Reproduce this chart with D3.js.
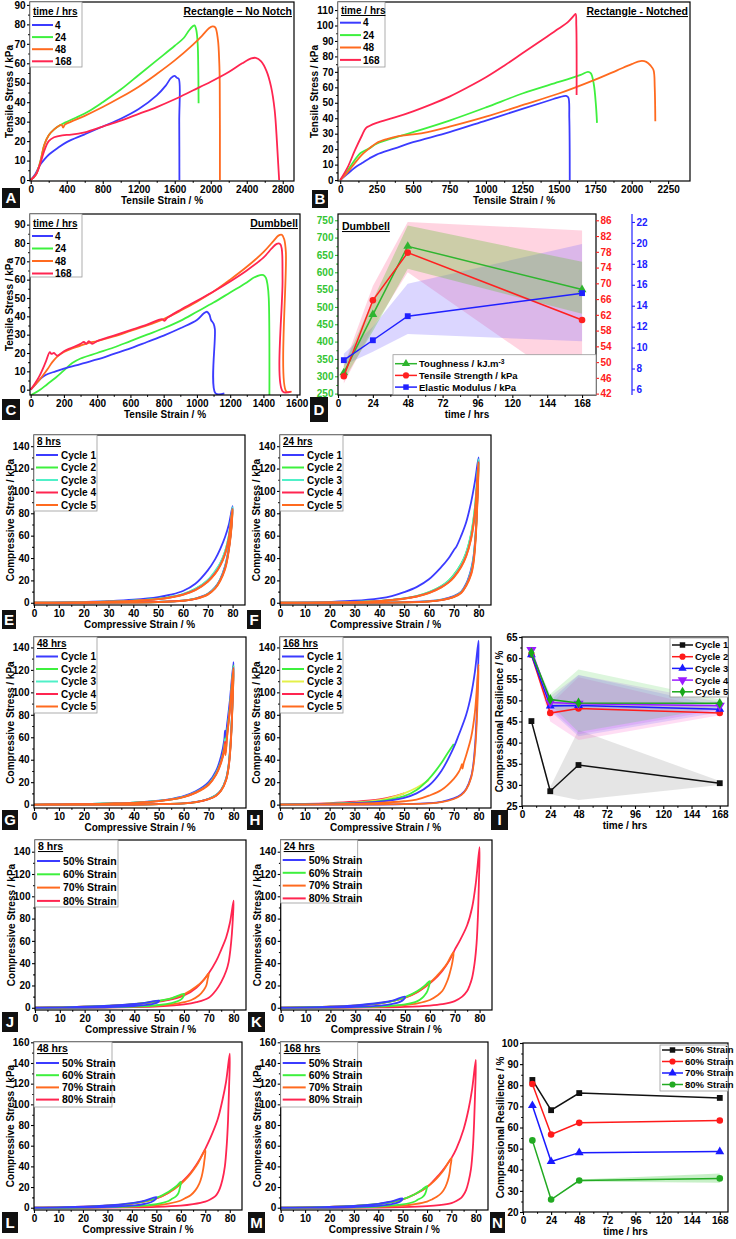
<!DOCTYPE html>
<html><head><meta charset="utf-8">
<script src="https://cdn.jsdelivr.net/npm/d3@7"></script>
<style>body{margin:0;background:#fff}svg{display:block;font-family:"Liberation Sans",Arial,Helvetica,sans-serif;font-weight:bold}</style>
</head><body><script>
// ---------------- DATA ----------------
const A_xticks=[0,400,800,1200,1600,2000,2400,2800], A_yticks=[0,10,20,30,40,50,60,70,80,90];
const B_xticks=[0,250,500,750,1000,1250,1500,1750,2000,2250], B_yticks=[0,10,20,30,40,50,60,70,80,90,100,110];
const C_xticks=[0,200,400,600,800,1000,1200,1400,1600], C_yticks=[0,10,20,30,40,50,60,70,80,90];
const time_ticks=[0,24,48,72,96,120,144,168];
const D_lticks=[250,300,350,400,450,500,550,600,650,700,750];
const D_rticks=[42,46,50,54,58,62,66,70,74,78,82,86];
const D_bticks=[6,8,10,12,14,16,18,20,22];
const comp_xticks=[0,10,20,30,40,50,60,70,80];
const comp_yticks=[0,20,40,60,80,100,120,140];
const comp_yticks2=[0,20,40,60,80,100,120,140,160];
const I_yticks=[25,30,35,40,45,50,55,60,65];
const N_yticks=[20,30,40,50,60,70,80,90,100];
const time_series=["4","24","48","168"];
const cycles=["Cycle 1","Cycle 2","Cycle 3","Cycle 4","Cycle 5"];
const strains=["50% Strain","60% Strain","70% Strain","80% Strain"];

const A_4=[[0,0],[50,3],[100,7.5],[150,10.5],[200,13],[300,16.5],[400,19.5],[600,23.5],[800,27.5],[1000,31.5],[1200,36.5],[1400,43.5],[1500,48.5],[1560,52.5],[1600,53.5],[1625,52.5],[1645,52],[1650,30],[1652,0]];
const A_24=[[0,0],[60,3],[110,10],[150,18],[200,23],[260,26],[320,28],[380,29.5],[500,32],[650,35.5],[800,40],[1000,46.5],[1200,54],[1400,61.5],[1600,69],[1700,73],[1760,77],[1800,79],[1820,79.5],[1840,77],[1855,70],[1862,55],[1865,39.5]];
const A_48=[[0,0],[60,3],[110,10],[150,18],[200,23],[260,26],[320,28],[345,28.3],[360,27],[380,28.5],[450,30],[600,33],[800,37.5],[1000,42.5],[1200,48],[1400,54.5],[1600,61.5],[1800,69.5],[1900,74],[1980,78],[2020,79],[2050,78.5],[2080,72],[2095,60],[2100,50],[2102,0]];
const A_168=[[0,0],[60,3],[110,9],[150,15],[200,20],[260,22],[350,23],[450,23.3],[600,24.5],[800,27.5],[1000,30.5],[1200,34],[1400,37.5],[1600,41.5],[1800,46],[2000,50.5],[2200,55.5],[2350,60],[2450,62.5],[2500,62.8],[2560,61],[2620,56],[2670,48],[2710,36],[2735,20],[2750,8],[2760,0]];

const B_4=[[0,0],[50,4],[100,8],[150,11],[200,14],[250,16.5],[375,20.5],[500,24.5],[750,31],[1000,38.5],[1250,46],[1400,50.5],[1500,53.5],[1550,54.5],[1565,53.5],[1572,40],[1575,0]];
const B_24=[[0,0],[50,6],[100,13],[140,17.5],[200,20.5],[250,23.5],[375,27.5],[500,31],[750,38.5],[1000,47],[1250,56],[1500,63.5],[1650,68],[1700,70],[1720,69],[1740,62],[1755,48],[1762,37]];
const B_48=[[0,0],[50,5],[100,11],[150,16.5],[200,20.5],[250,24],[320,26.5],[400,28.5],[500,29.5],[600,31],[750,34.5],[1000,41],[1250,48.5],[1500,56],[1750,65],[1900,71],[2000,75],[2060,77],[2100,76.5],[2130,74],[2150,71],[2158,60],[2162,38]];
const B_168=[[0,0],[50,8],[100,19],[150,29],[175,33.5],[200,35],[250,37],[375,40.5],[500,44.5],[625,49],[750,54],[875,60],[1000,66.5],[1125,74],[1250,82],[1375,90],[1500,98],[1560,102],[1600,106],[1615,107.5],[1620,100],[1622,55]];

const C_4=[[0,0],[30,3],[60,6],[90,8],[150,10],[200,11.5],[300,14],[400,16.5],[500,19.5],[600,22.5],[700,26],[800,29.5],[900,33.5],[1000,38],[1040,41.5],[1060,42.5],[1075,41],[1085,38],[1100,36],[1108,33],[1112,-2],[1165,-2]];
const C_24=[[0,-3],[50,-0.5],[100,3],[150,6.5],[200,10.5],[250,14.5],[300,17],[400,20],[500,23],[600,26.5],[700,30],[800,33.5],[900,37.5],[1000,42.5],[1100,47.5],[1200,53],[1300,58.5],[1340,61],[1380,62.5],[1400,62.5],[1415,61],[1425,57],[1432,50],[1436,-3]];
const C_48=[[0,0],[50,5],[100,11],[130,15],[160,18],[200,20.5],[250,22.5],[300,24],[350,25.5],[400,26.5],[500,29],[600,32],[700,35],[800,38.5],[900,43],[1000,48],[1100,53.5],[1200,60],[1300,67],[1400,75],[1460,81],[1490,84],[1510,84.5],[1525,82],[1535,75],[1538,-1],[1570,-1]];
const C_168=[[0,0],[50,7],[90,15],[115,20.5],[125,19.5],[140,20],[160,18.5],[200,21],[250,23],[300,25],[320,26],[335,25],[350,26.5],[370,25],[400,26.5],[500,29.5],[600,32.5],[700,35.5],[790,38.5],[805,37.5],[820,39],[900,43.5],[1000,48.5],[1100,53.5],[1200,59],[1300,65],[1400,72],[1450,77],[1480,79.5],[1500,79.5],[1510,77],[1515,60],[1517,-1],[1565,-1]];

const D_time=[4,24,48,168];
const D_tough=[310,478,675,550], D_tough_lo=[290,430,610,480], D_tough_hi=[330,520,735,630];
const D_tens=[46.4,65.7,77.8,60.7], D_tens_lo=[44.6,58.7,72.8,42], D_tens_hi=[49,69.3,85.6,83.4];
const D_mod=[8.8,10.7,13.0,15.2], D_mod_lo=[8.3,9.6,11.3,10.6], D_mod_hi=[9.4,12.0,16.1,19.9];

const E_c1=[[0,0],[10,0.3],[20,0.8],[30,1.5],[40,2.7],[50,5],[55,7.2],[60,10.5],[65,17],[70,29],[73,39],[75,48],[77,59],[78.5,70],[80,86.5],[79.6,72],[79,58],[78,43],[77,33],[75,21],[73,14],[70,8],[65,3.8],[60,2],[50,0.8],[40,0.3],[20,0],[0,0]];
const E_c2=[[0,0],[10,0.2],[20,0.5],[30,1],[40,1.9],[50,3.6],[55,5.2],[60,7.8],[65,12.5],[70,20],[73,28],[75,35],[77,46],[78.5,60],[80,85],[79.6,70],[79,57],[78,42],[77,32],[75,20.5],[73,13.5],[70,7.8],[65,3.6],[60,1.9],[50,0.7],[40,0.3],[20,0],[0,0]];
const E_c3=[[0,0],[10,0.2],[20,0.5],[30,1],[40,1.9],[50,3.5],[55,5.1],[60,7.7],[65,12.3],[70,20.5],[73,28.5],[75,35.5],[77,46],[78.5,60],[80,85.5],[79.6,70],[79,57],[78,42],[77,32],[75,20.5],[73,13.5],[70,7.8],[65,3.6],[60,1.9],[50,0.7],[40,0.3],[20,0],[0,0]];
const E_c4=[[0,0],[10,0.2],[20,0.4],[30,0.9],[40,1.7],[50,3.3],[55,4.8],[60,7.2],[65,11.5],[70,19],[73,26.5],[75,33.5],[77,44],[78.5,58],[80,84],[79.6,69],[79,56],[78,41],[77,31],[75,20],[73,13],[70,7.5],[65,3.5],[60,1.8],[50,0.7],[40,0.3],[20,0],[0,0]];
const E_c5=[[0,0],[10,0.2],[20,0.4],[30,0.9],[40,1.7],[50,3.2],[55,4.7],[60,7],[65,11.2],[70,18.8],[73,26],[75,33],[77,43.5],[78.5,57],[80,83.5],[79.6,68],[79,55],[78,40],[77,30],[75,19.5],[73,12.8],[70,7.3],[65,3.4],[60,1.7],[50,0.6],[40,0.2],[20,0],[0,0]];

const F_c1=[[0,0],[10,0.3],[20,0.8],[30,1.8],[40,4],[45,6],[50,9.5],[55,14],[60,21],[65,32],[68,40],[70,47],[71,50],[73,60],[75,72],[77,90],[78.5,108],[80,130],[79.7,110],[79.3,85],[78.8,62],[78,42],[77,30],[75,17],[73,10],[70,6],[65,2.8],[60,1.5],[50,0.5],[40,0.2],[20,0],[0,0]];
const F_c2=[[0,0],[20,0.3],[30,0.7],[40,1.7],[50,4],[55,6],[60,9.5],[65,15],[68,20],[70,25],[73,35],[75,45],[77,62],[78.5,85],[80,128],[79.7,105],[79.3,82],[78.8,60],[78,40],[77,28],[75,16],[73,9.5],[70,5.5],[65,2.5],[60,1.3],[50,0.4],[40,0.1],[20,0],[0,0]];
const F_c3=[[0,0],[20,0.3],[30,0.7],[40,1.7],[50,3.9],[55,5.9],[60,9.3],[65,14.8],[68,19.8],[70,24.6],[73,34.5],[75,44.5],[77,61],[78.5,84],[80,128.5],[79.7,105],[79.3,82],[78.8,60],[78,40],[77,28],[75,16],[73,9.5],[70,5.5],[65,2.5],[60,1.3],[50,0.4],[40,0.1],[20,0],[0,0]];
const F_c4=[[0,0],[20,0.3],[30,0.6],[40,1.5],[50,3.7],[55,5.6],[60,8.8],[65,14],[68,18.5],[70,23],[73,32.5],[75,42],[77,58],[78.5,80],[80,126],[79.7,102],[79.3,80],[78.8,58],[78,38],[77,26.5],[75,15.5],[73,9],[70,5.2],[65,2.4],[60,1.2],[50,0.4],[40,0.1],[20,0],[0,0]];
const F_c5=[[0,0],[20,0.3],[30,0.6],[40,1.5],[50,3.6],[55,5.5],[60,8.6],[65,13.7],[68,18.2],[70,22.5],[73,32],[75,41.5],[77,57],[78.5,79],[80,125],[79.7,100],[79.3,78],[78.8,56],[78,36],[77,25],[75,15],[73,8.7],[70,5],[65,2.3],[60,1.1],[50,0.3],[40,0.1],[20,0],[0,0]];

const G_c1=[[0,0],[10,0.2],[20,0.5],[30,1],[40,1.8],[50,3.5],[55,5],[60,7.5],[65,12],[70,20],[73,30],[75,43],[76.3,58],[76.6,66],[76.8,60],[77.5,73],[78.5,92],[80,127],[79.7,100],[79.3,76],[78.8,55],[78,35],[77,23],[75,13],[73,8.5],[70,5.2],[65,2.4],[60,1.2],[50,0.4],[40,0.1],[20,0],[0,0]];
const G_c2=[[0,0],[10,0.2],[20,0.5],[30,1],[40,1.7],[50,3.3],[55,4.7],[60,7],[65,11.2],[70,18.5],[73,28],[75,39],[76.3,52],[76.6,59],[76.8,54],[77.5,66],[78.5,86],[80,124],[79.7,98],[79.3,75],[78.8,54],[78,34],[77,22.5],[75,12.8],[73,8.3],[70,5],[65,2.3],[60,1.1],[50,0.4],[40,0.1],[20,0],[0,0]];
const G_c3=[[0,0],[10,0.2],[20,0.5],[30,1],[40,1.7],[50,3.3],[55,4.7],[60,7],[65,11.1],[70,18.3],[73,27.7],[75,38.5],[76.3,51],[76.6,58],[76.8,53],[77.5,65],[78.5,85],[80,123],[79.7,97],[79.3,74],[78.8,53],[78,34],[77,22.5],[75,12.8],[73,8.3],[70,5],[65,2.3],[60,1.1],[50,0.4],[40,0.1],[20,0],[0,0]];
const G_c4=[[0,0],[10,0.2],[20,0.4],[30,0.9],[40,1.6],[50,3.2],[55,4.6],[60,6.8],[65,10.9],[70,18],[73,27],[75,38],[76.3,50],[76.6,56],[76.8,46],[77.5,63],[78.5,84],[80,122],[79.7,96],[79.3,73],[78.8,52],[78,33],[77,22],[75,12.5],[73,8],[70,4.9],[65,2.2],[60,1.1],[50,0.4],[40,0.1],[20,0],[0,0]];
const G_c5=[[0,0],[10,0.2],[20,0.4],[30,0.9],[40,1.6],[50,3.1],[55,4.5],[60,6.7],[65,10.7],[70,17.5],[73,26.5],[75,37],[76.3,48],[76.6,54],[76.8,44],[77.5,62],[78.5,83],[80,121],[79.7,95],[79.3,72],[78.8,51],[78,32.5],[77,21.5],[75,12.3],[73,7.9],[70,4.8],[65,2.2],[60,1.1],[50,0.4],[40,0.1],[20,0],[0,0]];

const H_c1=[[0,0],[10,0.3],[20,0.7],[30,1.3],[40,2.6],[50,6],[55,10],[60,17],[65,30],[70,51],[72,62],[75,80],[77,98],[78.5,118],[80,146],[79.7,115],[79.3,85],[78.8,60],[78,38],[77,25],[75,14],[73,9],[70,5.5],[65,2.5],[60,1.3],[50,0.5],[30,0],[0,0]];
const H_c2=[[0,0],[10,0.3],[20,0.8],[30,1.6],[40,3.2],[50,7.5],[55,13],[60,23],[63,31],[65,37],[67,44],[70,54]];
const H_c3=[[0,0],[20,0.8],[30,1.8],[40,4],[45,6.5],[50,10],[55,15],[58,19],[60,22]];
const H_c4=[[0,0.3],[10,0.7],[20,1.4],[30,2.6],[40,4.6],[45,6.8],[50,10]];
const H_c5=[[0,0],[20,0.4],[30,0.8],[40,1.5],[50,3],[55,4.5],[60,8],[65,13],[70,23],[72,29],[73,34],[73.3,36],[73.5,32],[74,37],[75,44],[77,60],[78.5,82],[80,125],[79.7,100],[79.3,75],[78.8,55],[78,36],[77,24],[75,13.5],[73,8.5],[70,5],[65,2.2],[60,1.1],[50,0.4],[30,0],[0,0]];

const J_80=[[0,0],[10,0.4],[20,0.9],[30,1.7],[40,3],[50,5.5],[55,7.5],[60,11],[65,18],[70,31],[73,42],[75,52],[77,63],[78.5,76],[80,96],[79.7,80],[79.3,66],[78.7,52],[78,41],[77,33],[75,23],[73,16],[70,9],[65,5],[60,3],[50,1.3],[40,0.6],[20,0.1],[0,0]];
const J_70=[[0,0],[10,0.4],[20,0.9],[30,1.7],[40,3.2],[50,6],[55,8.5],[60,12],[65,19],[68,25],[70,31],[69.5,25],[69,20],[68,16],[66,11],[63,7],[60,5],[55,3],[50,2],[40,1],[20,0.2],[0,0]];
const J_60=[[0,0],[20,0.9],[30,1.8],[40,3.3],[50,6.3],[55,8.5],[60,12.5],[59.5,9],[58.5,7],[57,5.5],[55,4.2],[50,2.5],[40,1],[20,0.2],[0,0]];
const J_50=[[0,0],[20,0.9],[30,1.8],[40,3.4],[45,4.6],[50,6.5],[49.5,5],[48,3.8],[45,2.6],[40,1.6],[30,0.6],[20,0.2],[0,0]];

const K_80=[[0,0],[10,0.4],[20,1],[30,2],[40,4],[50,9],[55,14],[60,22],[63,28],[65,33],[68,43],[70,52],[72,60],[75,74],[77,90],[78.5,112],[80,144],[79.7,110],[79.3,80],[78.8,58],[78,40],[77,27],[76,20],[75,15],[73,10],[70,6],[65,3.3],[60,2],[50,0.8],[40,0.3],[20,0],[0,0]];
const K_70=[[0,0],[20,0.9],[30,2],[40,4],[50,9],[55,14.5],[60,22.5],[63,29],[65,34],[67,40],[69.5,50],[69.3,44],[68.8,38],[68,31],[67,24],[65,15],[63,11],[60,7],[55,4],[50,2.5],[40,1],[20,0.2],[0,0]];
const K_60=[[0,0],[20,0.9],[30,2],[40,4.2],[45,6],[50,9.5],[55,15],[58,20],[60,24],[59.6,19],[59,15],[58,11.5],[57,9],[55,6],[50,3],[40,1.2],[20,0.2],[0,0]];
const K_50=[[0,0],[20,1],[30,2.2],[40,4.5],[45,6.5],[50,10],[49.5,7.5],[48,5.3],[45,3.5],[40,2],[30,0.8],[20,0.3],[0,0]];

const L_80=[[0,0],[10,0.4],[20,1],[30,2],[40,4],[50,9],[55,14.5],[60,24],[63,31],[65,37],[68,48],[70,57],[72,67],[75,85],[77,104],[78.5,122],[80,149],[79.7,115],[79.3,85],[78.8,62],[78,40],[77,27],[76,19],[75,14],[74,11],[72,8],[70,6],[65,3.5],[60,2],[50,0.8],[40,0.3],[20,0],[0,0]];
const L_70=[[0,0],[20,0.9],[30,2],[40,4],[50,9],[55,14.5],[60,23],[63,30],[65,36],[67,43],[70,56],[69.6,45],[69.2,38],[68.5,30],[67.5,23],[66,17],[64,12],[62,9.5],[60,7],[55,4],[50,2.3],[40,1],[20,0.2],[0,0]];
const L_60=[[0,0],[20,0.9],[30,2],[40,4.2],[45,6.2],[50,9.5],[55,15.5],[58,20.5],[60,25],[59.6,19],[59,14],[58,11],[56,8],[55,6.5],[50,3.5],[40,1.3],[20,0.2],[0,0]];
const L_50=[[0,0],[20,1],[30,2.2],[40,4.5],[45,6.7],[50,10.2],[49.5,7.8],[48,5.5],[45,3.6],[40,2],[30,0.8],[20,0.3],[0,0]];

const M_80=[[0,0],[10,0.3],[20,0.8],[30,1.6],[40,3.5],[50,8],[55,13],[60,20],[63,27],[65,32],[68,41],[70,48],[72,57],[75,76],[77,95],[78.5,115],[80,143],[79.7,110],[79.3,82],[78.8,58],[78,37],[77,25],[76,17],[75,12.5],[74,9.5],[72,6.5],[70,4.5],[65,2.5],[60,1.5],[50,0.6],[40,0.2],[20,0],[0,0]];
const M_70=[[0,0],[20,0.8],[30,1.7],[40,3.5],[50,8],[55,13],[60,20],[63,26],[65,31],[67,37],[70,48],[69.6,40],[69.2,33],[68.5,26],[67.5,20],[66,14.5],[64,10.5],[62,8],[60,6],[55,3.5],[50,2],[40,0.8],[20,0.1],[0,0]];
const M_60=[[0,0],[20,0.8],[30,1.7],[40,3.6],[45,5.3],[50,8.2],[55,13],[58,17.5],[60,21],[59.6,16],[59,12.5],[58,10],[56,7.5],[55,6],[50,3.2],[40,1.2],[20,0.2],[0,0]];
const M_50=[[0,0],[20,0.8],[30,1.8],[40,3.8],[45,5.8],[50,9],[49.5,7],[48,5],[45,3.3],[40,1.8],[30,0.7],[20,0.2],[0,0]];

const I_time=[8,24,48,168];
const I_c1=[45.1,28.5,34.7,30.4], I_c1_lo=[45.1,27.8,26.4,30.0], I_c1_hi=[45.1,29.5,43.0,30.9];
const I_c2=[60.8,47.0,48.1,47.0], I_c2_lo=[60.8,45.0,40.6,46.5], I_c2_hi=[60.8,49.0,55.5,47.6];
const I_c3=[60.8,48.7,48.8,47.9], I_c3_lo=[60.8,47.5,41.5,47.2], I_c3_hi=[60.8,50.0,56.0,48.6];
const I_c4=[61.9,49.5,49.2,48.7], I_c4_lo=[61.9,48.0,42.0,47.8], I_c4_hi=[61.9,51.0,56.0,49.6];
const I_c5=[61.3,50.2,49.4,49.3], I_c5_lo=[61.3,49.0,42.5,48.4], I_c5_hi=[61.3,51.5,57.3,50.2];

const N_time=[8,24,48,168];
const N_50=[82.5,68.2,76.3,74.0];
const N_60=[80.6,56.7,62.2,63.3];
const N_70=[70.4,43.9,48.1,48.6];
const N_80=[53.9,25.9,34.9,35.9], N_80_lo=[53.9,25.9,34.4,33.8], N_80_hi=[53.9,25.9,35.4,38.2];

// ---------------- DRAWING ----------------
const BLUE="#3b3bff",GREEN="#3ef03e",ORANGE="#ff6a1f",RED="#ff2550",CYAN="#50f0c8",YELLOW="#e4f04a";
const svg=d3.select("body").append("svg").attr("width",736).attr("height",1239);
let clipN=0;
function panel(p){
  const x=d3.scaleLinear().domain(p.xd).range([p.l,p.r]);
  const y=d3.scaleLinear().domain(p.yd).range([p.b,p.t]);
  const g=svg.append("g");
  const id="clp"+(clipN++);
  g.append("clipPath").attr("id",id).append("rect").attr("x",p.l).attr("y",p.t).attr("width",p.r-p.l).attr("height",p.b-p.t);
  const plot=g.append("g").attr("clip-path",`url(#${id})`);
  return {x,y,g,plot,p};
}
function mids(t){const m=[];for(let i=0;i<t.length-1;i++)m.push((t[i]+t[i+1])/2);return m;}
function styleAxis(a,col){a.select(".domain").remove();a.selectAll("line").attr("stroke",col).attr("stroke-width",1.1);
  a.selectAll("text").attr("font-size",10).attr("font-weight","bold").attr("fill",col);}
function axes(P,o){
  const {x,y,g,p}=P;
  const xa=g.append("g").attr("transform",`translate(0,${p.b})`).call(d3.axisBottom(x).tickValues(o.xt).tickSize(3).tickPadding(1.5).tickFormat(d=>d));
  const xm=g.append("g").attr("transform",`translate(0,${p.b})`).call(d3.axisBottom(x).tickValues(mids(o.xt)).tickSize(1.8).tickFormat(""));
  styleAxis(xa,"#000");styleAxis(xm,"#000");
  const yc=o.ycol||"#000";
  const ya=g.append("g").attr("transform",`translate(${p.l},0)`).call(d3.axisLeft(y).tickValues(o.yt).tickSize(3).tickPadding(1.5).tickFormat(d=>d));
  const ym=g.append("g").attr("transform",`translate(${p.l},0)`).call(d3.axisLeft(y).tickValues(mids(o.yt)).tickSize(1.8).tickFormat(""));
  styleAxis(ya,yc);styleAxis(ym,yc);
  g.append("rect").attr("x",p.l).attr("y",p.t).attr("width",p.r-p.l).attr("height",p.b-p.t).attr("fill","none").attr("stroke","#000").attr("stroke-width",1.2);
  if(o.xl) g.append("text").attr("x",(p.l+p.r)/2).attr("y",p.b+23).attr("text-anchor","middle").attr("font-size",10).text(o.xl);
  if(o.yl) g.append("text").attr("transform",`translate(${p.l-(o.ylo||20)},${(p.t+p.b)/2}) rotate(-90)`).attr("text-anchor","middle").attr("font-size",10).text(o.yl);
}
const lineGen=(P)=>d3.line().x(d=>P.x(d[0])).y(d=>P.y(d[1])).curve(d3.curveCatmullRom.alpha(0.5));
function curve(P,data,col,w){P.plot.append("path").datum(data).attr("d",lineGen(P)).attr("fill","none").attr("stroke",col).attr("stroke-width",w||1.8).attr("stroke-linejoin","round");}
function sym(type,size){return d3.symbol().type(type).size(size||34)();}
function series(P,xs,ys,col,type,ysc){
  const Y=ysc||P.y;
  const pts=xs.map((t,i)=>[P.x(t),Y(ys[i])]);
  P.g.append("path").attr("d",d3.line()(pts)).attr("fill","none").attr("stroke",col).attr("stroke-width",1.5);
  P.g.selectAll(null).data(pts).enter().append("path").attr("transform",d=>`translate(${d[0]},${d[1]})`).attr("d",sym(type)).attr("fill",col);
}
function band(P,xs,lo,hi,col,op,ysc){
  const Y=ysc||P.y;
  P.plot.append("path").datum(xs.map((t,i)=>[t,lo[i],hi[i]])).attr("d",d3.area().x(d=>P.x(d[0])).y0(d=>Y(d[1])).y1(d=>Y(d[2]))).attr("fill",col).attr("fill-opacity",op).attr("stroke","none");
}
function legend(o){
  const g=svg.append("g");
  g.append("rect").attr("x",o.x).attr("y",o.y).attr("width",o.w).attr("height",o.h).attr("fill","#fff").attr("stroke","#999").attr("stroke-width",0.8);
  if(o.header) g.append("text").attr("x",o.x+3).attr("y",o.hy).attr("font-size",o.fs||10).attr("text-decoration","underline").text(o.header);
  o.items.forEach((it,i)=>{
    const yy=o.y0+i*o.dy;
    g.append("line").attr("x1",o.x+o.s0).attr("x2",o.x+o.s1).attr("y1",yy).attr("y2",yy).attr("stroke",it.c).attr("stroke-width",it.m?1.5:2);
    if(it.m) g.append("path").attr("transform",`translate(${o.x+(o.s0+o.s1)/2},${yy})`).attr("d",sym(it.m,30)).attr("fill",it.c);
    const t=g.append("text").attr("x",o.x+o.tx).attr("y",yy).attr("dy","0.36em").attr("font-size",o.fs||10).text(it.t);
    if(it.sup) t.append("tspan").attr("dy","-0.4em").attr("font-size",(o.fs||10)*0.7).text(it.sup);
  });
}
function letter(ch,x,y,w,h){
  svg.append("rect").attr("x",x).attr("y",y).attr("width",w).attr("height",h).attr("fill","#111");
  svg.append("text").attr("x",x+w/2).attr("y",y+h/2).attr("dy","0.36em").attr("text-anchor","middle").attr("fill","#fff").attr("font-size",15).text(ch);
}
function title(txt,x,y,anchor,fs){svg.append("text").attr("x",x).attr("y",y).attr("text-anchor",anchor).attr("font-size",fs||10.5).attr("text-decoration","underline").text(txt);}
const tdown={draw(c,s){const r=Math.sqrt(s/1.3);c.moveTo(-r,-r*0.6);c.lineTo(r,-r*0.6);c.lineTo(0,r*1.1);c.closePath();}};

const tcol=[BLUE,GREEN,ORANGE,RED];
// ---- A
const PA=panel({l:30,r:294,t:2,b:181,xd:[-8,2925],yd:[-0.5,91.5]});
[A_4,A_24,A_48,A_168].forEach((d,i)=>curve(PA,d,tcol[i]));
axes(PA,{xt:A_xticks,yt:A_yticks,xl:"Tensile Strain / %",yl:"Tensile Stress / kPa",ylo:17});
legend({x:30,y:2,w:52,h:65,header:"time / hrs",hy:15,y0:25,dy:12.1,s0:2,s1:23,tx:25,items:time_series.map((t,i)=>({t,c:tcol[i]}))});
title("Rectangle – No Notch",292,15,"end");
letter("A",2,188,18,20);
// ---- B
const PB=panel({l:338,r:690,t:2,b:181,xd:[-15,2400],yd:[-0.6,115.2]});
[B_4,B_24,B_48,B_168].forEach((d,i)=>curve(PB,d,tcol[i]));
axes(PB,{xt:B_xticks,yt:B_yticks,xl:"Tensile Strain / %",yl:"Tensile Stress / kPa",ylo:20});
legend({x:338,y:2,w:47,h:65,header:"time / hrs",hy:14,y0:22.7,dy:12.4,s0:2,s1:23,tx:25,items:time_series.map((t,i)=>({t,c:tcol[i]}))});
title("Rectangle - Notched",688,15,"end");
letter("B",312,190,16,18);
// ---- C
const PC=panel({l:30,r:300,t:214,b:395,xd:[-4,1620],yd:[-2.9,95.8]});
[C_24,C_4,C_48,C_168].forEach((d,i)=>curve(PC,d,[GREEN,BLUE,ORANGE,RED][i]));
axes(PC,{xt:C_xticks,yt:C_yticks,xl:"Tensile Strain / %",yl:"Tensile Stress / kPa",ylo:17});
legend({x:30,y:214,w:52,h:63,header:"time / hrs",hy:227,y0:236,dy:12.5,s0:2,s1:23,tx:25,items:time_series.map((t,i)=>({t,c:tcol[i]}))});
title("Dumbbell",298,227,"end");
letter("C",2,399,18,21);
// ---- D
const PD=panel({l:338,r:596,t:214,b:395,xd:[0,177.6],yd:[246,768]});
const yRed=d3.scaleLinear().domain([41.65,87.6]).range([395,214]);
const yBlue=d3.scaleLinear().domain([5.47,22.76]).range([395,214]);
band(PD,D_time,D_tens_lo,D_tens_hi,"#ff6f9a",0.3,yRed);
band(PD,D_time,D_mod_lo,D_mod_hi,"#7d6dff",0.28,yBlue);
band(PD,D_time,D_tough_lo,D_tough_hi,"#6dc040",0.35);
axes(PD,{xt:time_ticks,yt:D_lticks,xl:"time / hrs",ycol:"#33c433"});
{const ra=PD.g.append("g").attr("transform",`translate(596,0)`).call(d3.axisRight(yRed).tickValues(D_rticks).tickSize(3).tickPadding(1.5));
 styleAxis(ra,"#ff2020");
 PD.g.append("line").attr("x1",632).attr("x2",632).attr("y1",214).attr("y2",395).attr("stroke","#2020ff").attr("stroke-width",1.2);
 const ba=PD.g.append("g").attr("transform",`translate(632,0)`).call(d3.axisRight(yBlue).tickValues(D_bticks).tickSize(3).tickPadding(1.5));
 styleAxis(ba,"#2020ff");}
series(PD,D_time,D_tough,"#2fb52f",d3.symbolTriangle);
series(PD,D_time,D_tens,"#ff2020",d3.symbolCircle,yRed);
series(PD,D_time,D_mod,"#2020ff",d3.symbolSquare,yBlue);
legend({x:393,y:354.7,w:203,h:40,y0:363.7,dy:11.7,s0:2,s1:24,tx:26,fs:9.5,items:[{t:"Toughness / kJ.m",sup:"-3",c:"#2fb52f",m:d3.symbolTriangle},{t:"Tensile Strength / kPa",c:"#ff2020",m:d3.symbolCircle},{t:"Elastic Modulus / kPa",c:"#2020ff",m:d3.symbolSquare}]});
svg.append("text").attr("x",342).attr("y",230).attr("font-size",10.5).attr("text-decoration","underline").text("Dumbbell");
letter("D",310,397,18,25);

// ---- compressive cycle panels
const ccol=[BLUE,GREEN,CYAN,RED,ORANGE];
function compPanel(p,curves,cols,yt,hdr,items,lg,L){
  const P=panel(p);
  curves.forEach((d,i)=>curve(P,d,cols[i]));
  axes(P,{xt:comp_xticks,yt:yt,xl:"Compressive Strain / %",yl:"Compressive Stress / kPa",ylo:20});
  legend(Object.assign({x:p.l,y:p.t,header:hdr,items:items},lg));
  letter(L[0],L[1],L[2],L[3],L[4]);
  return P;
}
const lgC={w:63,h:76,hy:0,y0:0,dy:12.5,s0:2,s1:24,tx:27};
compPanel({l:34,r:245,t:435,b:605,xd:[0,85],yd:[-2,150]},[E_c1,E_c2,E_c3,E_c4,E_c5],ccol,comp_yticks,"8 hrs",cycles.map((t,i)=>({t,c:ccol[i]})),Object.assign({},lgC,{hy:445,y0:455}),["E",2,610,14,19]);
compPanel({l:280,r:491,t:435,b:605,xd:[0,85],yd:[-2,150]},[F_c1,F_c2,F_c3,F_c4,F_c5],ccol,comp_yticks,"24 hrs",cycles.map((t,i)=>({t,c:ccol[i]})),Object.assign({},lgC,{hy:445,y0:455}),["F",247,610,14,19]);
compPanel({l:34,r:246,t:637,b:808,xd:[0,85],yd:[-3,149.3]},[G_c1,G_c2,G_c3,G_c4,G_c5],ccol,comp_yticks,"48 hrs",cycles.map((t,i)=>({t,c:ccol[i]})),Object.assign({},lgC,{hy:647,y0:656.5}),["G",2,810,16,20]);
const hcol=[BLUE,GREEN,YELLOW,RED,ORANGE];
compPanel({l:280,r:491,t:637,b:808,xd:[0,85],yd:[-3,149.3]},[H_c4,H_c3,H_c2,H_c1,H_c5],[RED,YELLOW,GREEN,BLUE,ORANGE],comp_yticks,"168 hrs",cycles.map((t,i)=>({t,c:hcol[i]})),Object.assign({},lgC,{hy:647,y0:656.5}),["H",247,810,16,20]);

// ---- I
const PI=panel({l:522,r:728,t:637,b:806,xd:[0,175],yd:[25,65]});
band(PI,I_time,I_c1_lo,I_c1_hi,"#999",0.25);
band(PI,I_time,I_c2_lo,I_c2_hi,"#ff66cc",0.22);
band(PI,I_time,I_c3_lo,I_c3_hi,"#6666ff",0.18);
band(PI,I_time,I_c4_lo,I_c4_hi,"#b044ff",0.18);
band(PI,I_time,I_c5_lo,I_c5_hi,"#44cc44",0.18);
axes(PI,{xt:time_ticks,yt:I_yticks,xl:"time / hrs",yl:"Compressional Resilience / %",ylo:19});
const icol=["#111","#ff1a1a","#1a1aff","#9b1aff","#18a818"], isym=[d3.symbolSquare,d3.symbolCircle,d3.symbolTriangle,tdown,d3.symbolDiamond];
[I_c1,I_c2,I_c3,I_c4,I_c5].forEach((d,i)=>series(PI,I_time,d,icol[i],isym[i]));
legend({x:670,y:638,w:58,h:59,y0:645,dy:11.7,s0:2,s1:23,tx:25,fs:9.5,items:cycles.map((t,i)=>({t,c:icol[i],m:isym[i]}))});
letter("I",491,810,17,20);

// ---- strain panels
const scol=[BLUE,GREEN,ORANGE,RED];
const lgS={w:83,h:67,dy:13.3,s0:2,s1:25,tx:28,fs:10.5};
compPanel({l:35,r:246,t:840,b:1010,xd:[0,85],yd:[-2,150.5]},[J_80,J_70,J_60,J_50],[RED,ORANGE,GREEN,BLUE],comp_yticks,"8 hrs",strains.map((t,i)=>({t,c:scol[i]})),Object.assign({},lgS,{hy:850,y0:861}),["J",2,1012,16,20]);
compPanel({l:280.7,r:492,t:840,b:1010,xd:[0,85],yd:[-2,150.5]},[K_80,K_70,K_60,K_50],[RED,ORANGE,GREEN,BLUE],comp_yticks,"24 hrs",strains.map((t,i)=>({t,c:scol[i]})),Object.assign({},lgS,{w:77,h:63,dy:12.8,hy:850,y0:860}),["K",248,1012,17,20]);
compPanel({l:34,r:242,t:1042,b:1210,xd:[0,85],yd:[-2.2,160.3]},[L_80,L_70,L_60,L_50],[RED,ORANGE,GREEN,BLUE],comp_yticks2,"48 hrs",strains.map((t,i)=>({t,c:scol[i]})),Object.assign({},lgS,{w:78,h:65,dy:12.2,hy:1052,y0:1063}),["L",2,1212,16,21]);
compPanel({l:280.7,r:488,t:1042,b:1210,xd:[0,85],yd:[-2.2,160.3]},[M_80,M_70,M_60,M_50],[RED,ORANGE,GREEN,BLUE],comp_yticks2,"168 hrs",strains.map((t,i)=>({t,c:scol[i]})),Object.assign({},lgS,{w:77,h:65,dy:12.2,hy:1052,y0:1063}),["M",248,1212,17,21]);

// ---- N
const PN=panel({l:523,r:728,t:1043,b:1212,xd:[0,175],yd:[20,100]});
band(PN,N_time,N_80_lo,N_80_hi,"#44cc44",0.3);
axes(PN,{xt:time_ticks,yt:N_yticks,xl:"time / hrs",yl:"Compressional Resilience / %",ylo:19});
const ncol=["#111","#ff1a1a","#1a1aff","#22aa22"], nsym=[d3.symbolSquare,d3.symbolCircle,d3.symbolTriangle,d3.symbolCircle];
[N_50,N_60,N_70,N_80].forEach((d,i)=>series(PN,N_time,d,ncol[i],nsym[i]));
legend({x:660,y:1045,w:68,h:46,y0:1050,dy:11.5,s0:2,s1:23,tx:25,fs:9.5,items:strains.map((t,i)=>({t,c:ncol[i],m:nsym[i]}))});
letter("N",490,1212,15,21);
</script></body></html>
